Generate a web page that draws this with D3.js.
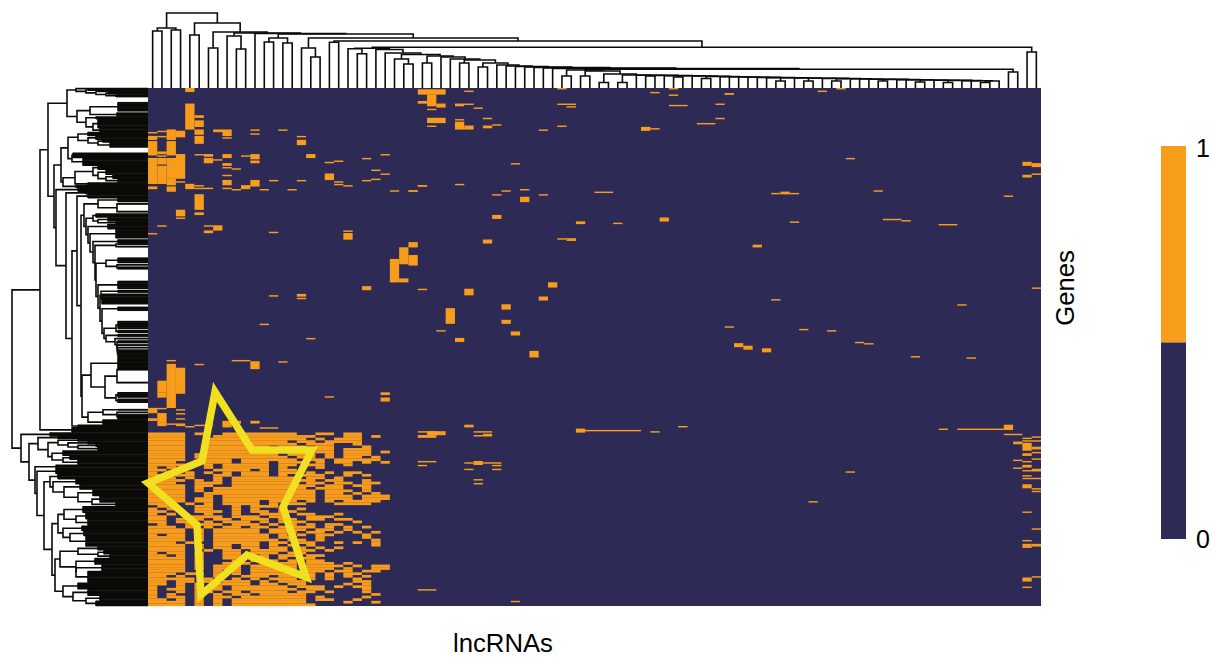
<!DOCTYPE html>
<html>
<head>
<meta charset="utf-8">
<script src="https://d3js.org/d3.v7.min.js"></script>
<style>
  html, body { margin: 0; background: #fff; }
  text { font-family: "Liberation Sans", Arial, sans-serif; fill: #000; }
</style>
</head>
<body>
<div id="chart"></div>
<script>
const nCols = 96, nRows = 400;
const legendValues = [1, 0];

// isolated hits: [firstCol, lastCol, firstRow, lastRow]
const sparseHits = [
  [4,4,0,2],[4,4,12,31],[5,5,21,22],[5,5,25,29],[5,5,32,35],[5,5,37,42],[7,8,32,33],[8,8,34,36],[8,8,38,38],
  [11,11,32,32],[11,11,35,35],[14,14,32,32],[16,16,37,37],[16,16,40,43],[0,0,34,34],[1,1,33,33],[2,2,32,39],
  [3,3,33,33],[3,3,34,37],[0,0,37,39],[1,1,37,37],[0,0,41,51],[1,1,49,50],[2,2,41,51],[1,1,52,52],[3,3,51,53],
  [0,0,54,73],[1,1,54,58],[1,1,60,73],[2,3,54,69],[2,2,70,74],[3,3,72,72],[4,4,74,77],[0,0,76,77],[2,2,76,79],
  [5,5,75,75],[5,6,77,77],[5,5,82,93],[5,5,96,97],[3,3,94,98],[3,3,100,100],[1,1,106,106],[6,6,106,106],
  [7,7,106,109],[6,6,110,111],[0,0,112,112],[13,13,111,111],[21,21,110,110],[21,21,112,116],
  [5,5,51,51],[6,6,51,52],[6,6,54,57],[7,7,55,55],[8,8,51,53],[10,10,52,52],[11,11,51,54],[11,11,56,57],
  [17,17,51,53],[19,19,57,57],[20,20,56,56],[23,23,54,54],[25,25,51,51],[8,8,58,59],[8,8,61,61],[9,9,62,62],
  [8,8,67,67],[8,8,71,74],[11,11,71,75],[10,10,75,77],[8,8,77,77],[9,9,78,78],[12,12,78,78],[13,13,71,71],
  [15,15,78,78],[16,16,71,71],[19,19,66,70],[20,20,72,72],[20,20,74,74],[21,21,75,75],[23,23,71,71],[24,24,70,70],
  [24,24,63,63],[25,25,66,66],[26,26,79,79],[28,28,79,79],[29,29,75,75],
  [29,31,1,4],[30,30,5,13],[29,29,10,11],[31,31,12,12],[31,31,13,14],[30,30,16,16],[33,33,12,13],[34,34,12,12],
  [35,35,15,15],[34,34,2,2],[30,31,23,26],[30,30,29,29],[33,33,24,24],[33,33,26,31],[34,34,29,31],[36,36,23,23],
  [36,36,29,30],[37,37,28,28],[44,44,0,0],[44,45,12,12],[45,45,14,14],[44,44,29,29],[42,42,32,32],[54,54,3,3],
  [56,56,0,0],[56,56,5,5],[56,57,13,13],[53,53,30,32],[54,54,31,31],[59,60,27,27],[61,61,12,12],[61,61,23,23],
  [62,62,4,4],[39,39,58,58],[29,29,75,75],[28,28,79,79],[33,33,74,74],[37,37,82,82],[38,38,79,79],[40,40,78,78],
  [40,40,84,87],[42,42,82,82],[48,49,80,80],[37,37,98,100],[46,46,103,104],[50,50,104,104],[55,55,100,102],
  [36,36,117,119],[44,44,116,116],[45,45,116,117],[28,28,119,122],[27,27,123,135],[28,28,129,136],[26,26,132,149],
  [27,27,147,149],[23,23,153,155],[29,29,155,155],[34,34,155,159],[43,43,150,153],[42,42,161,163],[13,13,160,160],
  [16,16,159,160],[16,16,162,162],[12,12,182,182],[17,17,193,193],[31,31,187,187],[32,32,170,181],[33,33,193,195],
  [38,38,167,170],[38,38,179,181],[39,39,188,190],[41,41,203,207],[2,2,210,210],[2,2,213,246],[3,3,216,235],
  [1,1,226,234],[1,1,235,238],[5,5,213,213],[9,10,210,210],[11,11,211,216],[14,14,211,211],[19,19,238,238],
  [25,25,235,236],[25,25,239,241],[0,0,247,250],[0,0,255,256],[1,1,251,257],[1,1,258,260],[2,2,259,259],[3,3,248,248],
  [3,3,251,251],[3,3,255,255],[3,3,259,260],[4,4,261,261],[5,6,260,260],[8,8,257,260],[9,9,257,258],[8,8,261,261],
  [11,11,257,258],[12,13,262,262],[34,34,260,260],[1,1,247,247],
  [62,62,4,4],[72,72,2,2],[74,74,0,0],[75,75,54,54],[67,67,81,81],[68,68,80,81],[69,69,81,81],[78,78,79,79],
  [69,69,103,103],[79,80,101,101],[81,81,102,102],[85,86,105,105],[65,65,121,122],[92,92,83,83],[94,94,57,59],
  [95,95,58,60],[94,94,67,68],[95,95,66,66],[95,95,154,154],[67,67,163,163],[87,87,167,167],[62,62,184,184],
  [70,70,186,186],[73,73,187,187],[76,76,196,196],[77,77,197,197],[63,63,197,199],[64,64,199,201],[66,66,201,203],
  [82,82,207,207],[88,88,208,208],
  [29,30,265,265],[30,31,265,267],[29,30,268,269],[34,34,261,261],[35,36,265,265],[36,36,267,268],[35,35,268,268],
  [46,46,263,265],[47,52,264,264],[54,54,265,265],[57,57,261,261],[85,85,263,263],[87,91,263,263],[92,92,260,263],
  [92,93,267,267],[94,94,270,270],[95,95,269,269],[93,93,273,274],[94,95,272,272],[94,94,274,279],[95,95,277,278],
  [95,95,281,281],[94,94,282,283],[93,93,287,287],[94,94,288,288],[95,95,286,286],[94,94,291,292],[93,93,293,293],
  [94,94,295,295],[95,95,294,295],[94,94,299,299],[94,95,301,301],[94,94,306,308],[95,95,309,309],[95,95,311,311],
  [94,94,327,327],[95,95,340,340],[94,94,349,349],[94,94,352,352],[94,94,353,354],[95,95,352,353],[95,95,377,377],
  [94,94,378,380],[94,94,385,385],[29,30,288,288],[29,29,291,291],[34,34,289,289],[35,35,288,290],[36,37,289,289],
  [37,37,291,291],[34,34,294,294],[37,37,294,294],[35,35,302,302],[35,35,305,305],[71,71,319,319],[75,75,296,296],
  [29,30,387,387],[39,39,396,396]
];

// the dense block bottom left, from row 266 down; each string covers two rows, # = 1
const denseFirstRow = 266;
const denseRows = [
  "####.#..########..##.##...",
  "####...###########...##.#.",
  "####..###########.#.###...",
  "####..#########.##.####...",
  "####..##########.###..#...",
  "####..#######.###.##...#..",
  "####..########.#..##.###..",
  "####..########.##.##.###.#",
  "####.#########.###.#.###..",
  "####.##########.##.#.##.#.",
  "####..###.######.##.#####.",
  "###...###.###.###.#.##.#.#",
  "####..#.#####.##.##..#....",
  "#.#...#.#####.#...#.......",
  "##.#...####.#.##..........",
  "#.#.#.#.#.###.##.#.#.##...",
  "##.##..##.###.#.###..#.#..",
  "###.#..#.#######.##.#.....",
  "####.#.#.#########.##..#..",
  "###..###.#######.##.##.##.",
  "####.##..#########.##.##..",
  "####.#.##########.###..#..",
  "####.#.###########.###.#..",
  "####..############.##.#.#.",
  "####..#.##########.###.###",
  "####.##.##########.###.###",
  "####.##.####.###.#.#.####.",
  "###.#.#.####.#.##...####..",
  ".##..##..#.###............",
  "#.#..##..#.#..#.#.........",
  "##...###.#.##.##..........",
  "#.#...#..#..###.##..#.....",
  "##..####.###.##..###......",
  "##.#.#.##.###.##.##.##....",
  "##.##.#.###.#.###.....#...",
  ".#..####.###.#.#.#.##.....",
  "###.#.#.##.##.####.#.#.#..",
  "####.#.#####.####.##.#....",
  "####.#.#####.###.##.#.#.#.",
  "#.##.#.######.#.#.##...#..",
  "####.#.######.##..#....#..",
  "####.#.#######.##.#.....#.",
  "###.#..#####.##.##..#.#.#.",
  "####.#.##.##.#.#.#......#.",
  "####.#.##.##.##.#.#.#.....",
  "####..#.##.####.##.#......",
  "#.##.#..##.###.##.........",
  "##.#.#..##..#.##.##.......",
  "####.#..##.##.#.##........",
  "####.#...#.###.#.##.......",
  "####.#..###.####.###.#....",
  "####.#.###.#####.####.#.##",
  "####.#.###.#####.###.#..##",
  "####...#.#.#####.##.##.##.",
  "###.##.#.#.#####.#.#.##...",
  "##.#...#..###.##.#.#.#.#..",
  "#####.#..#.#.###.#.#..#...",
  "##.##.#.###.#.###.....##..",
  "##.#.#.####.##.##....#.#..",
  "#..#.#.#.######.###.#.##..",
  "#.##.#.#.#######.##....#..",
  "#..#.##.##.####.##.#...#..",
  "#.#..#.#.##.#####.......#.",
  "#.##.#.##.#######.#....#..",
  "##.#.#.#.########.##..#...",
  "####.#.#.########....#..#.",
  "####.#.#.#########........"
];

// dendrogram helpers: n = merge at height h, L = one column, b = a run of gene rows
const L = {};
const n = (h, a, c) => ({ h, children: [a, c] });
const p = h => n(h, L, L);
const b = (r0, r1, h) => ({ h, r0, r1 });
const chain = (entries, tail) => entries.reduceRight((next, [h, c]) => n(h, c, next), tail);

// column tree, cols 44-91
const colLow = chain([
  [18, p(12)], [17, p(12)], [14, p(5.5)], [13, p(5.5)], [12.8, L], [12.6, p(12)], [12.4, L], [12.2, p(11)],
  [12, L], [11.6, p(9.5)], [11.4, L], [11.2, L], [11, L], [10.8, L], [10.6, L], [10.4, L], [10.2, p(7)], [10, L],
  [9.8, p(7)], [9.6, L], [9.4, p(7)], [9.2, L], [9, L], [8.8, L], [8.6, p(7)], [8.4, L], [8.2, L], [8, p(6)],
  [7.8, L], [7.6, p(5.5)], [7.4, L], [7.2, L], [7, p(5.5)]
], L);

// column tree, cols 21-43 ladder on top of cols 44-93
const colMid = chain([
  [39.8, n(39.3, L, p(34.3))], [38.5, L], [35, L], [33.5, n(29, L, p(24))], [32, p(25)], [31, L], [29, L], [28, p(25)],
  [25, p(21)], [23, L], [22, L], [21.5, L], [21, L], [20.5, L], [20, L], [19.5, L]
], n(18.7, colLow, p(16)));

const colTree = chain([
  [75, n(60, p(57), p(58))], [65, p(53)], [56, p(40)], [55, n(52, L, p(39))], [54.5, L],
  [54, n(50, p(46), p(45))], [50, n(40, L, p(31))], [47, p(45.7)]
], n(40.8, colMid, p(36)));

// gene tree, upper clusters
const rowTop = n(81,
  chain([[72, b(0, 0, 70)], [62, b(1, 1, 60)], [52, b(2, 2, 50)], [42, b(3, 4, 40)]], b(5, 6, 32)),
  n(71, n(58, b(11, 17, 30), b(19, 21, 31)), chain([[62, b(22, 23, 52)], [55, b(24, 30, 50)]], b(31, 33, 48))));
const row61 = n(87,
  n(80, chain([[70, b(34, 36, 60)], [60, b(37, 39, 52)], [50, b(40, 41, 45)]], b(42, 45, 38)),
    n(76, b(50, 53, 75), b(54, 59, 65))),
  n(85, n(73, chain([[55, b(60, 62, 50)], [50, b(63, 66, 42)], [42, b(67, 69, 35)]], b(70, 72, 30)), b(73, 74, 60)),
    b(75, 76, 72)));
const rowLadder = chain([
  [62, chain([[55, b(97, 99, 52)], [50, b(100, 102, 40)]], b(103, 104, 32))],
  [60, b(105, 108, 40)], [58, b(109, 115, 32)], [55, b(117, 119, 30)], [53, n(32, b(120, 120, 30), b(122, 122, 30))],
  [52, n(42, b(131, 134, 30), n(31, b(136, 136, 30), b(138, 139, 30)))], [50, b(149, 154, 30)],
  [48, n(47, b(156, 157, 30), b(159, 166, 46))], [46, b(169, 171, 30)],
  [44, n(32, b(180, 185, 30), b(187, 188, 30))], [42, b(190, 191, 30)]
], n(33, b(193, 193, 30), chain([[31, b(195, 196, 30)], [30.8, b(198, 198, 30)], [30.6, b(200, 200, 30)]], b(202, 207, 30))));
const row84 = n(64,
  n(50, b(85, 87, 30), n(31, b(89, 89, 30), b(95, 95, 30))),
  rowLadder);
const row82 = n(66,
  n(57, b(208, 216, 30),
    n(43, n(31, b(217, 217, 30), b(227, 227, 30)), n(32, b(235, 238, 30), b(240, 242, 30)))),
  n(60, n(45, b(248, 248, 30), n(31, b(250, 250, 30), b(252, 255, 30))), b(256, 259, 45)));
const row72 = n(76,
  n(71, b(82, 84, 60), n(67, row84, row82)),
  b(260, 261, 70));
const rowUpper = n(108,
  n(100, rowTop, n(94, row61, n(92, b(77, 79, 70), n(82, b(80, 81, 62), row72)))),
  b(262, 265, 76));

// gene tree, lower clusters
const row48b = n(100,
  chain([[90, b(271, 272, 70)], [80, b(273, 274, 60)], [70, b(275, 276, 52)]], b(277, 279, 50)),
  chain([[96, b(280, 283, 85)], [85, b(284, 286, 78)]], b(287, 290, 70)));
const rowUp44 = chain([
  [98, b(298, 301, 90)], [95, b(302, 305, 72)], [84, b(306, 309, 68)], [70, b(310, 314, 55)], [56, b(315, 319, 48)]
], b(320, 322, 32));
const row52 = n(96,
  n(90, chain([[84, b(323, 327, 65)], [72, b(328, 332, 62)]], b(333, 337, 60)),
    chain([[85, b(338, 341, 66)], [78, b(342, 345, 64)]], b(346, 353, 62))),
  n(93, n(88, chain([[70, b(354, 356, 50)], [50, b(357, 359, 44)]], b(360, 362, 38)),
      chain([[72, b(363, 367, 53)], [72, b(368, 372, 46)]], b(373, 381, 60))),
    chain([[85, b(382, 386, 70)], [75, b(387, 391, 60)], [62, b(392, 395, 48)]], b(396, 399, 52))));
const rowLower = n(127,
  b(266, 268, 98),
  n(119,
    n(110, b(269, 270, 90), row48b),
    n(113, b(291, 293, 92),
      n(111, b(294, 297, 92), n(104, rowUp44, row52)))));

const rowTree = n(136, rowUpper, rowLower);

// ****************** Scales ***************************
const colorOf = d3.scaleOrdinal().domain([0, 1]).range(["#2e2a56", "#f89c1c"]);
const x = d3.scaleBand().domain(d3.range(nCols)).range([148, 1041]);
const y = d3.scaleBand().domain(d3.range(nRows)).range([88, 606]);
const colH = d3.scaleLinear().domain([0, 75]).range([88, 13]);
const rowH = d3.scaleLinear().domain([0, 136]).range([148, 12]);
const legendY = d3.scaleBand().domain(legendValues).range([146, 539]);

const svg = d3.select("#chart").append("svg")
    .attr("width", 1213)
    .attr("height", 658)
    .style("display", "block");

// ****************** Heatmap ***************************
const denseHits = [];
denseRows.forEach((line, i) => {
  const r = denseFirstRow + i * 2;
  let start = -1;
  for (let c = 0; c <= line.length; c++) {
    if (line[c] === "#" && start < 0) start = c;
    if (line[c] !== "#" && start >= 0) {
      denseHits.push([start, c - 1, r, Math.min(r + 1, nRows - 1)]);
      start = -1;
    }
  }
});

svg.append("rect")
    .attr("x", x(0)).attr("y", y(0))
    .attr("width", x.bandwidth() * nCols).attr("height", y.bandwidth() * nRows)
    .attr("fill", colorOf(0));

svg.append("g").selectAll("rect")
    .data(sparseHits.concat(denseHits))
  .join("rect")
    .attr("x", d => x(d[0]))
    .attr("y", d => y(d[2]))
    .attr("width", d => x(d[1]) - x(d[0]) + x.bandwidth())
    .attr("height", d => y(d[3]) - y(d[2]) + y.bandwidth() + 0.15)
    .attr("fill", colorOf(1));

// ****************** Dendrograms ***************************
function bracket(d, kind) {
  const [a, c] = d.children;
  return kind === "col"
    ? `M${a.pos},${colH(a.hv)}V${colH(d.hv)}H${c.pos}V${colH(c.hv)}`
    : `M${rowH(a.hv)},${a.pos}H${rowH(d.hv)}V${c.pos}H${rowH(c.hv)}`;
}

// column tree: leaves sit at the column centres
const colRoot = d3.hierarchy(colTree, d => d.children);
colRoot.leaves().forEach((d, i) => { d.pos = x(i) + x.bandwidth() / 2; d.hv = 0; });
colRoot.eachAfter(d => {
  if (d.children) {
    d.pos = d3.mean(d.children, e => e.pos);
    d.hv = d.data.h;
  }
});
svg.append("g").attr("fill", "none").attr("stroke", "#0b0a06").attr("stroke-width", 1.6)
  .selectAll("path")
    .data(colRoot.descendants().filter(d => d.children))
  .join("path")
    .attr("d", d => bracket(d, "col"));

// gene tree: each leaf run is a comb of row lines
const rowRoot = d3.hierarchy(rowTree, d => d.children);
rowRoot.eachAfter(d => {
  d.hv = d.data.h;
  d.pos = d.children
    ? d3.mean(d.children, e => e.pos)
    : (y(d.data.r0) + y(d.data.r1) + y.bandwidth()) / 2;
});
const rowG = svg.append("g").attr("fill", "none").attr("stroke", "#0b0a06").attr("stroke-width", 1.6);
rowG.selectAll("path")
    .data(rowRoot.descendants().filter(d => d.children))
  .join("path")
    .attr("d", d => bracket(d, "row"));

const leafRows = rowRoot.leaves().flatMap(d =>
  d3.range(d.data.r0, d.data.r1 + 1).map(r => ({ r, h: d.data.h })));
rowG.selectAll("line.leaf")
    .data(leafRows)
  .join("line")
    .attr("class", "leaf")
    .attr("stroke-width", 1.9)
    .attr("x1", d => rowH(d.h))
    .attr("x2", 148)
    .attr("y1", d => y(d.r) + y.bandwidth() / 2)
    .attr("y2", d => y(d.r) + y.bandwidth() / 2);
rowG.selectAll("line.stem")
    .data(rowRoot.leaves().filter(d => d.data.r1 > d.data.r0))
  .join("line")
    .attr("class", "stem")
    .attr("x1", d => rowH(d.hv))
    .attr("x2", d => rowH(d.hv))
    .attr("y1", d => y(d.data.r0))
    .attr("y2", d => y(d.data.r1) + y.bandwidth());

// ****************** Star annotation ***************************
svg.append("polygon")
    .attr("points", "215,392 252,450 312,450 283,507 306,577 247,555 201,595 197,525 148,483 202,461")
    .attr("fill", "none")
    .attr("stroke", "#f0e01f")
    .attr("stroke-width", 7.5)
    .attr("stroke-miterlimit", 10);

// ****************** Legend and labels ***************************
svg.append("g").selectAll("rect")
    .data(legendValues)
  .join("rect")
    .attr("x", 1161)
    .attr("y", d => legendY(d))
    .attr("width", 25)
    .attr("height", legendY.bandwidth())
    .attr("fill", d => colorOf(d));

svg.append("g").selectAll("text")
    .data(legendValues)
  .join("text")
    .attr("x", 1196)
    .attr("y", d => d === 1 ? 157 : 548)
    .attr("font-size", 25)
    .text(d => d);

svg.append("text")
    .attr("x", 503).attr("y", 652)
    .attr("text-anchor", "middle")
    .attr("font-size", 25.7)
    .text("lncRNAs");

svg.append("text")
    .attr("transform", "translate(1074,288) rotate(-90)")
    .attr("text-anchor", "middle")
    .attr("font-size", 25.7)
    .text("Genes");
</script>
</body>
</html>
